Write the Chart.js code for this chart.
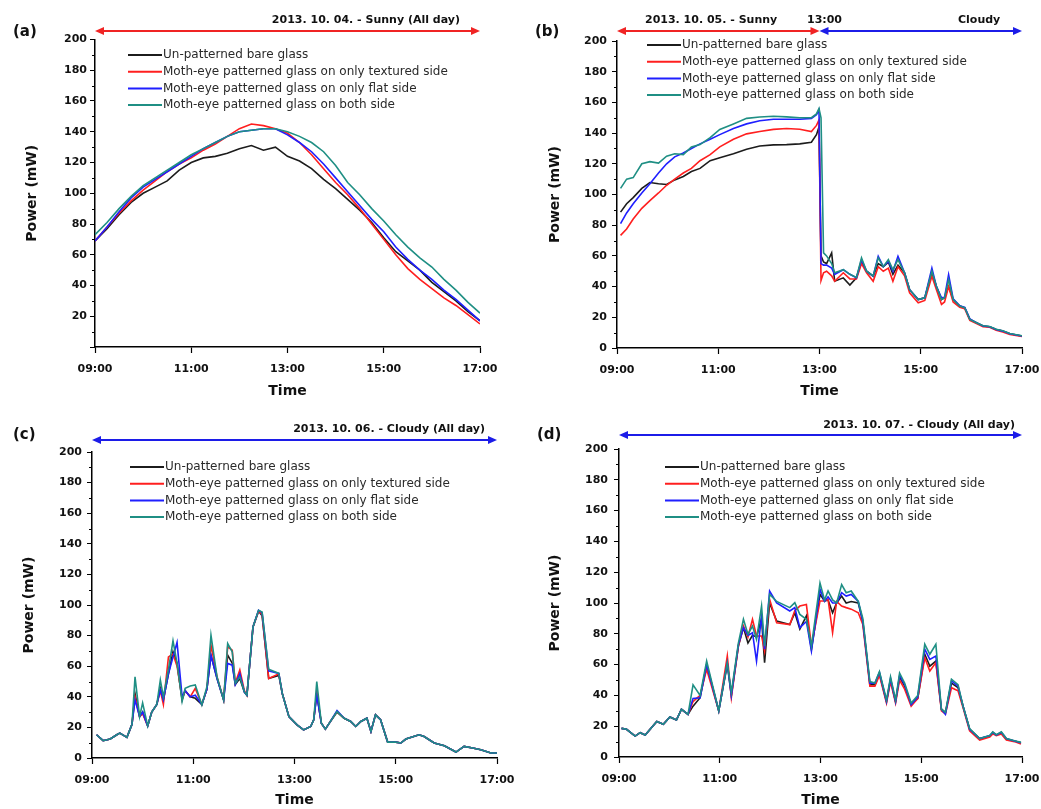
<!DOCTYPE html>
<html>
<head>
<meta charset="utf-8">
<script src="https://cdn.jsdelivr.net/npm/chart.js@4.4.1/dist/chart.umd.min.js"></script>
<style>
body{margin:0;background:#fff;width:1041px;height:809px;position:relative;overflow:hidden;font-family:"DejaVu Sans",sans-serif}
canvas{position:absolute}
.t{position:absolute;font-weight:bold;color:#111;white-space:nowrap;line-height:1;font-size:11px}
.p{position:absolute;font-weight:bold;color:#111;line-height:1;font-size:15px}
</style>
</head>
<body>
<canvas id="ca" width="520" height="400" style="left:0;top:0;width:520px;height:400px"></canvas>
<canvas id="cb" width="521" height="400" style="left:520px;top:0;width:521px;height:400px"></canvas>
<canvas id="cc" width="520" height="404" style="left:0;top:405px;width:520px;height:404px"></canvas>
<canvas id="cd" width="521" height="404" style="left:520px;top:405px;width:521px;height:404px"></canvas>

<div class="p" style="left:13px;top:24px">(a)</div>
<div class="t" style="right:581px;top:14px">2013. 10. 04. - Sunny (All day)</div>
<div class="p" style="left:535px;top:24px">(b)</div>
<div class="t" style="left:645px;top:14px">2013. 10. 05. - Sunny</div>
<div class="t" style="left:807px;top:14px">13:00</div>
<div class="t" style="left:958px;top:14px">Cloudy</div>
<div class="p" style="left:13px;top:427px">(c)</div>
<div class="t" style="right:556px;top:423px">2013. 10. 06. - Cloudy (All day)</div>
<div class="p" style="left:537px;top:427px">(d)</div>
<div class="t" style="right:26px;top:419px">2013. 10. 07. - Cloudy (All day)</div>

<script>
// series names / colours (same in all four panels)
const seriesNames = ["Un-patterned bare glass", "Moth-eye patterned glass on only textured side",
  "Moth-eye patterned glass on only flat side", "Moth-eye patterned glass on both side"];
const seriesColors = ["#1c1c1c", "#ff1f1f", "#1f1fff", "#1f8f84"];

// (a) 2013.10.04 sunny - time in hours
const timesA = [9, 9.25, 9.5, 9.75, 10, 10.25, 10.5, 10.75, 11, 11.25, 11.5, 11.75, 12, 12.25, 12.5, 12.75,
  13, 13.25, 13.5, 13.75, 14, 14.25, 14.5, 14.75, 15, 15.25, 15.5, 15.75, 16, 16.25, 16.5, 16.75, 17];
const blackA = [69, 77, 86, 94, 100, 104, 108, 115, 120, 123, 124, 126, 129, 131, 128, 130, 124, 121, 116, 109, 103, 96, 89, 81, 71, 62, 56, 50, 42, 36, 30, 23, 17];
const redA = [69, 78, 87, 95, 102, 108, 114, 119, 123, 128, 132, 137, 142, 145, 144, 142, 139, 133, 125, 116, 107, 99, 90, 80, 70, 60, 51, 44, 38, 32, 27, 21, 15];
const blueA = [69, 78, 88, 97, 104, 109, 114, 119, 124, 129, 133, 137, 140, 141, 142, 142, 138, 133, 127, 119, 110, 101, 92, 83, 75, 65, 57, 50, 44, 37, 31, 24, 17];
const tealA = [73, 81, 90, 98, 105, 110, 115, 120, 125, 129, 133, 137, 140, 141, 142, 142, 140, 137, 133, 127, 118, 107, 99, 90, 82, 73, 65, 58, 52, 44, 37, 29, 22];

// (b) 2013.10.05 sunny then cloudy from 13:00
const timesB = [9.07, 9.19, 9.32, 9.49, 9.65, 9.82, 9.98, 10.14, 10.31, 10.47,
  10.64, 10.84, 11.03, 11.30, 11.56, 11.82, 12.09, 12.35, 12.61, 12.84,
  12.94, 12.99, 13.03, 13.08, 13.14, 13.24, 13.30, 13.47, 13.60, 13.73,
  13.83, 13.93, 14.06, 14.16, 14.26, 14.36, 14.45, 14.55, 14.68, 14.78,
  14.95, 15.08, 15.22, 15.31, 15.41, 15.47, 15.55, 15.64, 15.77, 15.87,
  15.97, 16.10, 16.23, 16.36, 16.49, 16.62, 16.76, 17.00];
const blackB = [88.5, 94, 98, 104, 107.8, 107, 106.5, 109.5, 111.7, 115,
  117, 122, 124, 126.5, 129.5, 131.6, 132.3, 132.5, 133, 134,
  139, 144, 60, 56, 55, 62, 43.5, 45.7, 41, 45.7,
  56.5, 50, 46.8, 55, 53, 56, 48, 54, 49, 38,
  31.6, 32.7, 49, 40, 31.6, 32.7, 40, 31.6, 27.3, 26.2,
  18.6, 16.5, 14.3, 13.9, 12, 11, 9.3, 7.8];
const redB = [73.4, 77.5, 84, 91, 96, 101, 106, 110, 114, 117,
  122, 126, 131, 136, 139.5, 141, 142.4, 143, 142.5, 141,
  145, 148.5, 44, 49, 50, 47, 43.5, 49, 45, 45,
  55, 49, 43.5, 53, 50, 52, 43.5, 53, 47, 36,
  29.4, 31, 46.8, 38, 28.4, 30, 40, 30, 26.5, 25.5,
  18, 16, 13.8, 13.5, 11.5, 10.5, 8.8, 7.5];
const blueB = [81, 88, 94, 101, 107, 114, 120, 124.5, 127, 130,
  133, 136, 139, 143, 146, 148, 149, 149, 149, 149.6,
  152, 155, 55, 54, 54, 52, 48, 51, 48, 45.7,
  57.6, 50, 46.8, 59.7, 53, 56.5, 50, 59.7, 49, 38,
  31.6, 32.7, 52, 40, 32.7, 33, 47.8, 32, 27.5, 26.5,
  19, 16.5, 14.3, 13.9, 12, 11, 9.3, 7.8];
const tealB = [104, 110, 111, 120, 121.4, 120.5, 125, 126.5, 126, 131,
  132.5, 137, 142.4, 146, 149.6, 150.5, 151, 150.6, 150, 150,
  152.5, 156, 150, 62, 60, 55, 49, 51, 48, 46,
  58.7, 50, 47, 58.7, 53, 57.6, 51, 57.6, 49, 38,
  31.6, 32.7, 50, 40, 31.6, 32.7, 44.6, 31.6, 27.3, 26.2,
  18.6, 16.5, 14.5, 14, 12.2, 11.2, 9.5, 8];

// (c) 2013.10.06 cloudy
const timesC = [9.09, 9.22, 9.36, 9.49, 9.55, 9.69, 9.79, 9.85, 9.94, 10.00,
  10.10, 10.18, 10.28, 10.35, 10.41, 10.51, 10.60, 10.68, 10.78, 10.84,
  10.94, 11.04, 11.17, 11.27, 11.35, 11.47, 11.60, 11.68, 11.77, 11.83,
  11.92, 12.01, 12.06, 12.18, 12.29, 12.36, 12.49, 12.69, 12.76, 12.89,
  13.05, 13.18, 13.32, 13.38, 13.44, 13.53, 13.61, 13.71, 13.84, 13.98,
  14.11, 14.21, 14.31, 14.43, 14.51, 14.60, 14.70, 14.84, 15.00, 15.10,
  15.20, 15.46, 15.56, 15.76, 15.96, 16.19, 16.35, 16.52, 16.68, 16.88,
  17.00];
const blackC = [15.2, 11.3, 12.4, 15.2, 16.3, 13.5, 22, 42, 27, 30,
  21, 30, 35, 45.5, 38, 55, 69.4, 62, 38, 44,
  40, 39, 35, 45, 67.2, 52, 38, 67.2, 62, 48,
  52, 43, 41, 85.7, 96, 93, 52, 54, 42, 27,
  21.7, 18.4, 20.6, 25, 42, 22.8, 18.9, 23.9, 30, 26,
  23.9, 20.6, 23.9, 26, 17.4, 28.2, 25, 10.4, 10.4, 9.8,
  12.4, 15.2, 14, 9.8, 8, 3.9, 7.6, 6.5, 5.4, 3.3,
  3.3];
const redC = [15.2, 11.3, 12.4, 15.2, 16.3, 13.5, 22, 40, 27, 29,
  21, 30, 35, 44, 35, 66, 68, 60, 39, 44,
  40, 45.5, 35, 45, 73.8, 53, 38, 72.7, 70.5, 49,
  57.5, 44, 41, 85.7, 96, 94, 52, 55, 42, 27,
  21.7, 18.4, 20.6, 25, 43, 22.8, 18.9, 23.9, 30.4, 26,
  23.9, 20.6, 23.9, 26, 17.4, 28.2, 25, 10.4, 10.4, 9.8,
  12.4, 15.2, 14, 9.8, 8, 3.9, 7.6, 6.5, 5.4, 3.3,
  3.3];
const blueC = [15.2, 11.3, 12.4, 15.2, 16.3, 13.5, 22, 38, 27, 30,
  21, 30, 35, 44.5, 38, 55, 66, 75.5, 40, 44,
  40, 41, 35, 45, 67.2, 52, 38, 61.8, 60.7, 48,
  55, 43, 41, 85.7, 96.5, 95, 57, 55.3, 42, 27,
  21.7, 18.4, 20.6, 25, 41, 22.8, 18.9, 23.9, 31, 26,
  23.9, 20.6, 23.9, 26, 17.4, 28.2, 25, 10.4, 10.4, 9.8,
  12.4, 15.2, 14, 9.8, 8, 3.9, 7.6, 6.5, 5.4, 3.3,
  3.3];
const tealC = [15.2, 11.3, 12.4, 15.2, 16.3, 13.5, 22, 53, 27, 36,
  21, 30, 35, 51, 40, 58, 76.6, 62, 37, 45.5,
  47, 47.7, 34.7, 46.6, 80.3, 53, 38, 74.8, 69.4, 48.8,
  53, 43.4, 41, 85.7, 96.5, 95.4, 58, 55.3, 42, 27,
  21.7, 18.4, 20.6, 25, 50, 22.8, 18.9, 23.9, 30.4, 26,
  23.9, 20.6, 23.9, 26, 17.4, 28.2, 25, 10.4, 10.4, 9.8,
  12.4, 15.2, 14, 9.8, 8, 3.9, 7.6, 6.5, 5.4, 3.3,
  3.3];

// (d) 2013.10.07 cloudy
const timesD = [9.05, 9.15, 9.32, 9.42, 9.52, 9.75, 9.88, 10.01, 10.14, 10.24,
  10.37, 10.47, 10.61, 10.74, 10.98, 11.15, 11.23, 11.37, 11.47, 11.56,
  11.65, 11.73, 11.83, 11.89, 11.99, 12.13, 12.39, 12.49, 12.59, 12.72,
  12.82, 12.99, 13.08, 13.15, 13.24, 13.32, 13.42, 13.51, 13.61, 13.75,
  13.84, 13.98, 14.08, 14.17, 14.31, 14.39, 14.49, 14.57, 14.67, 14.80,
  14.93, 15.07, 15.17, 15.29, 15.40, 15.48, 15.60, 15.73, 15.83, 15.96,
  16.16, 16.36, 16.42, 16.49, 16.59, 16.69, 16.85, 16.98];
const blackD = [18.6, 18, 13.6, 15.8, 14.3, 23, 21.2, 26, 24, 31,
  27.7, 33, 38.5, 60, 30, 60, 40, 72, 84, 74,
  79, 78, 90, 61.3, 100, 88.3, 86, 93.7, 83, 91.6,
  70, 105.6, 101.3, 102, 93.7, 100, 104.5, 100, 101, 100,
  88, 47, 47, 54, 36, 50, 36, 52, 46, 34,
  38, 66.7, 59, 62.3, 31, 29, 48, 45, 33, 18,
  12, 13.6, 15.5, 14.3, 15.5, 11.5, 10.4, 9.3];
const redD = [18.6, 18, 13.6, 15.8, 14.3, 23, 21.2, 26, 24, 31,
  27.7, 36, 40, 57, 30, 65.6, 38.5, 72, 85, 78,
  89.4, 78.6, 78.6, 68.8, 102.4, 87.2, 86, 95, 98, 99,
  72, 101.3, 101.3, 102.4, 80.7, 101, 98, 97, 96, 93.7,
  86, 46, 46, 53, 35, 49, 35, 50, 44, 33,
  38, 64.5, 55.8, 61.3, 30, 28, 45, 43, 32, 17,
  11, 13, 15, 13.8, 15, 11, 10, 8.5];
const blueD = [18.6, 18, 13.6, 15.8, 14.3, 23, 21.2, 26, 24, 31,
  27.7, 38, 38.5, 60, 30, 61, 40, 73, 84, 79,
  80.7, 62.3, 91.6, 70, 107.8, 100, 94.8, 97, 84, 88,
  68.8, 108.9, 101, 104, 100, 100, 106.7, 104.5, 105.6, 101,
  88, 48, 48, 55, 36, 51, 36, 53, 47, 34,
  39, 70, 63.4, 65.6, 31, 27.7, 49.4, 46, 33, 18,
  12, 14, 16, 14.3, 16, 12, 10.4, 9.3];
const tealD = [18.6, 18, 13.6, 15.8, 14.3, 23, 21.2, 26, 24, 31,
  27.7, 46.8, 40, 62.3, 30, 61, 42, 74, 89.4, 79.7,
  85, 76.4, 98, 72, 105.6, 101, 97, 100.2, 92.6, 89.4,
  72, 113, 102, 107.8, 102, 100, 112, 106.7, 107.8, 101,
  90, 49, 48, 55.5, 37, 52, 37, 54.5, 48, 35,
  40, 73.2, 66.7, 73.2, 31, 29, 50.5, 47, 33, 18.5,
  12, 14, 16.3, 14.5, 16.3, 12, 10.5, 9.5];

const RED = "#f02424", BLUE = "#1c1ce8";

Chart.defaults.font.family = '"DejaVu Sans", sans-serif';

// minor y ticks, inner legend and the sunny/cloudy arrows
const decor = {
  id: "decor",
  afterDraw(chart, args, o) {
    const {ctx, chartArea: a, scales: {x, y}} = chart;
    ctx.save();
    ctx.strokeStyle = "#000";
    ctx.lineWidth = 1;
    ctx.beginPath();
    for (let v = 10; v < 200; v += 20) {
      const py = Math.round(y.getPixelForValue(v)) + 0.5;
      ctx.moveTo(a.left, py); ctx.lineTo(a.left - 3, py);
    }
    ctx.stroke();

    ctx.font = '12px "DejaVu Sans"';
    ctx.textBaseline = "middle";
    chart.data.datasets.forEach((ds, i) => {
      const ly = a.top + o.legendTop + i * 16.7, lx = a.left + o.legendLeft;
      ctx.strokeStyle = ds.borderColor;
      ctx.lineWidth = 2;
      ctx.beginPath(); ctx.moveTo(lx, ly); ctx.lineTo(lx + 34, ly); ctx.stroke();
      ctx.fillStyle = "#2a2a2a";
      ctx.fillText(ds.label, lx + 35, ly);
    });

    o.arrows.forEach(ar => {
      const x1 = x.getPixelForValue(ar.from), x2 = x.getPixelForValue(ar.to), ay = a.top + o.arrowY;
      ctx.strokeStyle = ar.color; ctx.fillStyle = ar.color; ctx.lineWidth = 2;
      ctx.beginPath(); ctx.moveTo(x1 + 6, ay); ctx.lineTo(x2 - 6, ay); ctx.stroke();
      ctx.beginPath(); ctx.moveTo(x1, ay); ctx.lineTo(x1 + 9, ay - 4); ctx.lineTo(x1 + 9, ay + 4); ctx.closePath(); ctx.fill();
      ctx.beginPath(); ctx.moveTo(x2, ay); ctx.lineTo(x2 - 9, ay - 4); ctx.lineTo(x2 - 9, ay + 4); ctx.closePath(); ctx.fill();
    });
    ctx.restore();
  }
};
Chart.register(decor);

function panel(id, times, vals, o) {
  const datasets = seriesNames.map((name, i) => ({
    label: name,
    data: times.map((t, j) => ({x: t, y: vals[i][j]})),
    borderColor: seriesColors[i],
    borderWidth: 1.6,
    pointRadius: 0,
    tension: 0,
    order: 3 - i
  }));
  return new Chart(document.getElementById(id), {
    type: "line",
    data: {datasets: datasets},
    options: {
      responsive: false,
      animation: false,
      devicePixelRatio: 1,
      layout: {padding: {top: o.top, right: o.right, left: 0, bottom: 0}},
      plugins: {legend: {display: false}, tooltip: {enabled: false}, decor: o},
      scales: {
        x: {
          type: "linear", min: 9, max: 17,
          ticks: {stepSize: 2, padding: 10, color: "#111", maxRotation: 0,
            font: {size: 11, weight: "bold"},
            callback: v => (v < 10 ? "0" : "") + v + ":00"},
          grid: {drawOnChartArea: false, color: "#000", tickLength: 6, tickWidth: 1.2},
          border: {color: "#000", width: 1.5},
          title: {display: true, text: "Time", color: "#111", font: {size: 14, weight: "bold"}, padding: 0},
          afterFit: s => { s.height = o.xh; s.paddingLeft = 0; s.paddingRight = 0; }
        },
        y: {
          min: 0, max: 200,
          ticks: {stepSize: 20, padding: o.yp, color: "#111",
            font: {size: 11, weight: "bold"},
            callback: v => (v === 0 && o.noZero) ? "" : v},
          grid: {drawOnChartArea: false, color: "#000", tickLength: 5, tickWidth: 1},
          border: {color: "#000", width: 1.5},
          title: {display: true, text: "Power (mW)", color: "#111", font: {size: 14, weight: "bold"},
            padding: {top: o.tp, bottom: 0}},
          afterFit: s => { s.width = o.yw; s.paddingTop = 0; s.paddingBottom = 0; }
        }
      }
    }
  });
}

panel("ca", timesA, [blackA, redA, blueA, tealA], {
  top: 39.5, right: 40, xh: 53, yw: 95, yp: 3, tp: 23.6, noZero: true,
  legendLeft: 33, legendTop: 15.5, arrowY: -8.5,
  arrows: [{from: 9, to: 17, color: RED}]
});
panel("cb", timesB, [blackB, redB, blueB, tealB], {
  top: 41, right: 19, xh: 52, yw: 97, yp: 5, tp: 26.6,
  legendLeft: 30, legendTop: 4, arrowY: -10,
  arrows: [{from: 9, to: 13, color: RED}, {from: 13, to: 17, color: BLUE}]
});
panel("cc", timesC, [blackC, redC, blueC, tealC], {
  top: 47, right: 23, xh: 51, yw: 92, yp: 5, tp: 21,
  legendLeft: 38, legendTop: 15, arrowY: -12,
  arrows: [{from: 9, to: 17, color: BLUE}]
});
panel("cd", timesD, [blackD, redD, blueD, tealD], {
  top: 44, right: 19, xh: 52, yw: 99, yp: 6, tp: 26.6,
  legendLeft: 46, legendTop: 18, arrowY: -14,
  arrows: [{from: 9, to: 17, color: BLUE}]
});
</script>
</body>
</html>
